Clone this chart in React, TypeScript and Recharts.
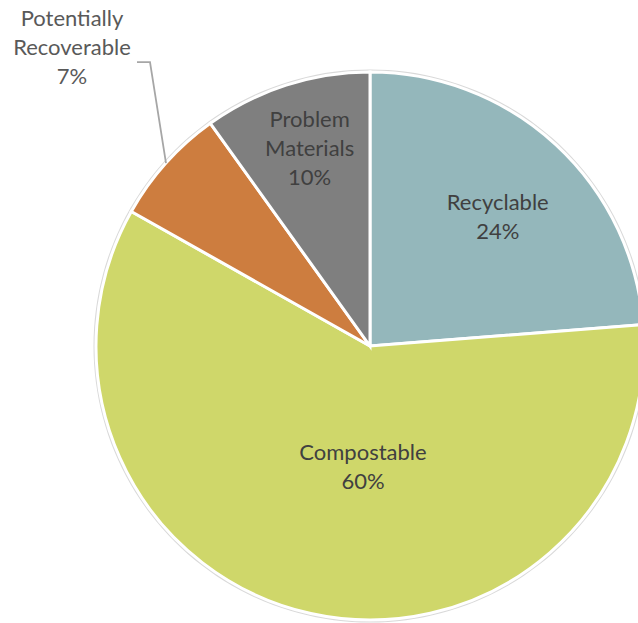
import { PieChart, Pie, Cell } from "recharts";

const categories = ["Recyclable", "Compostable", "Potentially Recoverable", "Problem Materials"];
const shares = [24, 60, 7, 10];
const sliceColors = ["#94B7BB", "#CFD76A", "#CD7D3F", "#7F7F7F"];

// label placement per slice: fraction of radius plus a small nudge
const LABEL_RADIUS = [0.665, 0.44, 0, 0.755];
const LABEL_NUDGE = [
  [4, 4],
  [19, 2],
  [0, 0],
  [3, -2],
];
const LINE_HEIGHT = 29;
const FONT = "Lato, 'Open Sans', sans-serif";
const RADIAN = Math.PI / 180;

const data = categories.map((name, i) => ({ name, value: shares[i] }));

const wrapLabel = (name: string) => {
  if (name === "Problem Materials") return ["Problem", "Materials"];
  if (name === "Potentially Recoverable") return ["Potentially", "Recoverable"];
  return [name];
};

function SliceLabel(props: any) {
  const { cx, cy, midAngle, outerRadius, index, name, value } = props;
  const lines = [...wrapLabel(name), `${value}%`];
  const cos = Math.cos(-midAngle * RADIAN);
  const sin = Math.sin(-midAngle * RADIAN);

  if (index === 2) {
    // outside label with an elbow leader line
    const sx = cx + outerRadius * cos;
    const sy = cy + outerRadius * sin;
    const ex = sx - 16;
    const ey = sy - 101;
    const tx = ex - 78;
    const ty = ey - 45;
    return (
      <g>
        <polyline
          points={`${sx},${sy} ${ex},${ey} ${ex - 13},${ey}`}
          fill="none"
          stroke="#A6A6A6"
          strokeWidth={1.8}
        />
        <text x={tx} y={ty} textAnchor="middle" fill="#595959" fontSize={22} fontFamily={FONT}>
          {lines.map((l, i) => (
            <tspan key={i} x={tx} dy={i === 0 ? 0 : LINE_HEIGHT} dominantBaseline="central">
              {l}
            </tspan>
          ))}
        </text>
      </g>
    );
  }

  const r = outerRadius * LABEL_RADIUS[index];
  const x = cx + r * cos + LABEL_NUDGE[index][0];
  const y = cy + r * sin + LABEL_NUDGE[index][1] - ((lines.length - 1) * LINE_HEIGHT) / 2;
  return (
    <text x={x} y={y} textAnchor="middle" fill="#404040" fontSize={22} fontFamily={FONT}>
      {lines.map((l, i) => (
        <tspan key={i} x={x} dy={i === 0 ? 0 : LINE_HEIGHT} dominantBaseline="central">
          {l}
        </tspan>
      ))}
    </text>
  );
}

export default function App() {
  return (
    <div style={{ position: "absolute", left: 0, top: 0, width: 638, height: 623, background: "#fff" }}>
      <PieChart width={638} height={623} margin={{ top: 0, right: 0, bottom: 0, left: 0 }}>
        <Pie
          data={[{ name: "edge", value: 1 }]}
          dataKey="value"
          cx={370}
          cy={346}
          outerRadius={276.5}
          fill="#D9D9D9"
          stroke="none"
          isAnimationActive={false}
        />
        <Pie
          data={data}
          dataKey="value"
          nameKey="name"
          cx={370}
          cy={346}
          outerRadius={274}
          startAngle={90}
          endAngle={-270}
          stroke="#FFFFFF"
          strokeWidth={3}
          label={SliceLabel}
          labelLine={false}
          isAnimationActive={false}
        >
          {data.map((d, i) => (
            <Cell key={d.name} fill={sliceColors[i]} />
          ))}
        </Pie>
      </PieChart>
    </div>
  );
}
